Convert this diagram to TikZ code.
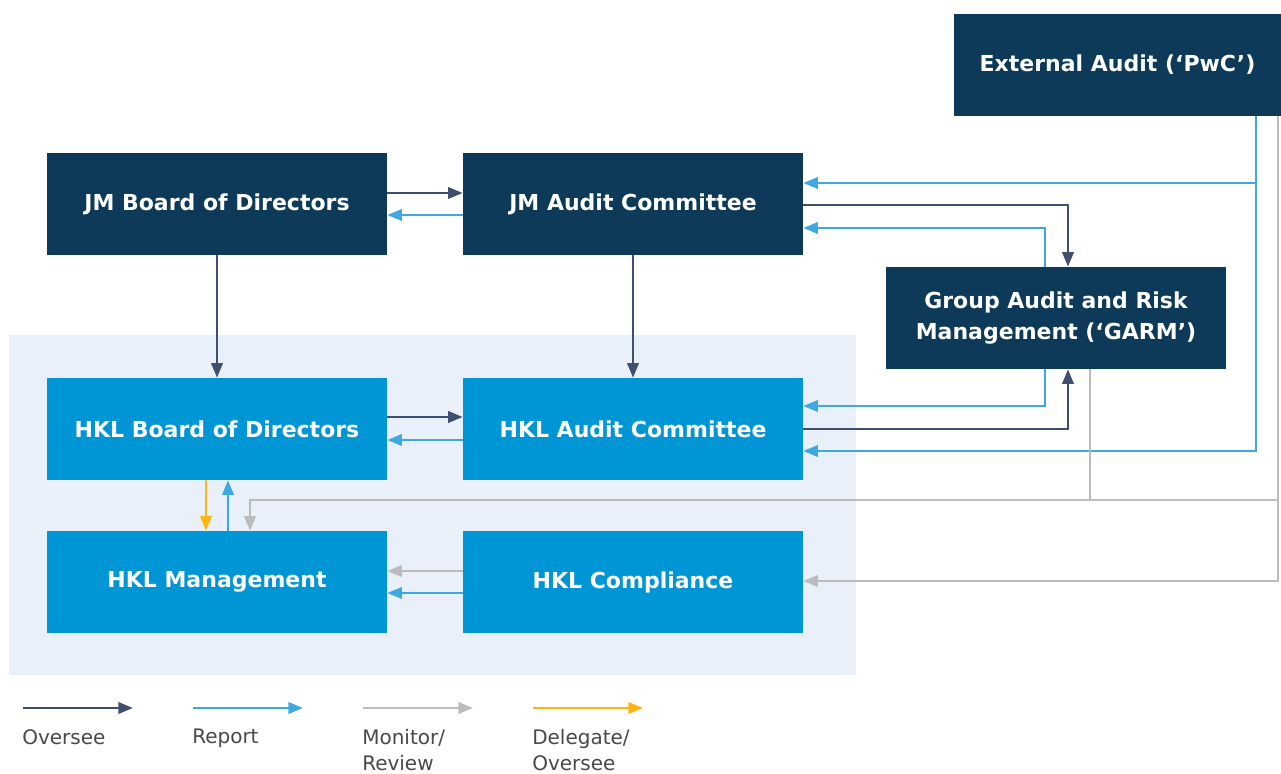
\documentclass[tikz,border=0pt]{standalone}
\usepackage{fontspec}
\setmainfont{DejaVu Sans}
\usetikzlibrary{arrows.meta}

\definecolor{navy}{RGB}{14,58,90}
\definecolor{hklblue}{RGB}{0,150,214}
\definecolor{hklshade}{RGB}{233,240,250}
\definecolor{overseecol}{RGB}{62,80,110}
\definecolor{reportcol}{RGB}{62,168,224}
\definecolor{monitorcol}{RGB}{187,187,187}
\definecolor{delegatecol}{RGB}{253,181,21}
\definecolor{labelcol}{RGB}{72,72,72}

\tikzset{
  box/.style={minimum width=255pt, minimum height=76.5pt, inner sep=0pt, text=white,
    font=\bfseries\fontsize{16.5}{23.6}\selectfont, align=center},
  jmbox/.style={box, fill=navy},
  hklbox/.style={box, fill=hklblue},
  link/.style={line width=2pt, -{Triangle[length=11pt,width=8.5pt]}},
  oversee/.style={link, overseecol},
  report/.style={link, reportcol},
  monitor/.style={link, monitorcol},
  delegate/.style={link, delegatecol},
  legend/.style={inner sep=0pt, text=labelcol, align=left, anchor=north west,
    font=\fontsize{15}{19.5}\selectfont},
}

\begin{document}
\begin{tikzpicture}[x=0.75pt,y=-0.75pt]
	\useasboundingbox (0,0) rectangle (1281,774);
	
	% Shaded HKL area
	\fill[hklshade] (9,335) rectangle (856,675);
	
	% Draw boxes
	\node[jmbox] (extaudit) at (1117.5,65) [minimum width=245pt] {External Audit (`PwC')};
	\node[jmbox] (jmboard) at (217,204) {JM Board of Directors};
	\node[jmbox] (jmaudit) at (633,204) {JM Audit Committee};
	\node[jmbox] (garm) at (1056,318) {Group Audit and Risk\\Management (`GARM')};
	\node[hklbox] (hklboard) at (217,429) {HKL Board of Directors};
	\node[hklbox] (hklaudit) at (633,429) {HKL Audit Committee};
	\node[hklbox] (hklmgmt) at (217,582) {HKL Management};
	\node[hklbox] (hklcomp) at (633,582) {HKL Compliance};
	
	% JM level
	\draw[oversee] (jmboard.east |- 0,193) -- (jmaudit.west |- 0,193);
	\draw[report] (jmaudit.west |- 0,215) -- (jmboard.east |- 0,215);
	\draw[oversee] (jmboard) -- (hklboard);
	\draw[oversee] (jmaudit) -- (hklaudit);
	
	% HKL level
	\draw[oversee] (hklboard.east |- 0,417) -- (hklaudit.west |- 0,417);
	\draw[report] (hklaudit.west |- 0,440) -- (hklboard.east |- 0,440);
	\draw[delegate] (hklboard.south -| 206,0) -- (hklmgmt.north -| 206,0);
	\draw[report] (hklmgmt.north -| 228,0) -- (hklboard.south -| 228,0);
	\draw[monitor] (hklcomp.west |- 0,571) -- (hklmgmt.east |- 0,571);
	\draw[report] (hklcomp.west |- 0,593) -- (hklmgmt.east |- 0,593);
	
	% GARM links
	\draw[oversee] (jmaudit.east |- 0,205) -| (garm.north -| 1068,0);
	\draw[report] (garm.north -| 1045,0) |- (jmaudit.east |- 0,228);
	\draw[report] (garm.south -| 1045,0) |- (hklaudit.east |- 0,406);
	\draw[oversee] (hklaudit.east |- 0,429) -| (garm.south -| 1068,0);
	
	% External audit links
	\coordinate (pwcreport) at (extaudit.south -| 1256,0);
	\coordinate (pwcmonitor) at (extaudit.south -| 1278,0);
	\coordinate (mgmtjoin) at (250,500);
	\draw[report] (pwcreport) |- (jmaudit.east |- 0,183);
	\draw[report] (pwcreport) |- (hklaudit.east |- 0,451);
	\draw[monitor] (pwcmonitor) |- (hklcomp.east |- 0,581);
	\draw[monitor] (pwcmonitor) |- (mgmtjoin) -- (hklmgmt.north -| mgmtjoin);
	\draw[monitor,-] (garm.south -| 1090,0) -- (mgmtjoin -| 1090,0);
	
	% Legend
	\coordinate (key1) at (23,708);
	\coordinate (key2) at (193,708);
	\coordinate (key3) at (363,708);
	\coordinate (key4) at (533,708);
	\draw[oversee] (key1) -- ++(110,0);
	\draw[report] (key2) -- ++(110,0);
	\draw[monitor] (key3) -- ++(110,0);
	\draw[delegate] (key4) -- ++(110,0);
	\node[legend] (lbl1) at (22,729) {Oversee};
	\node[legend] (lbl2) at (192,729) {Report};
	\node[legend] (lbl3) at (362,729) {Monitor/\\Review};
	\node[legend] (lbl4) at (532,729) {Delegate/\\Oversee};
\end{tikzpicture}
\end{document}
